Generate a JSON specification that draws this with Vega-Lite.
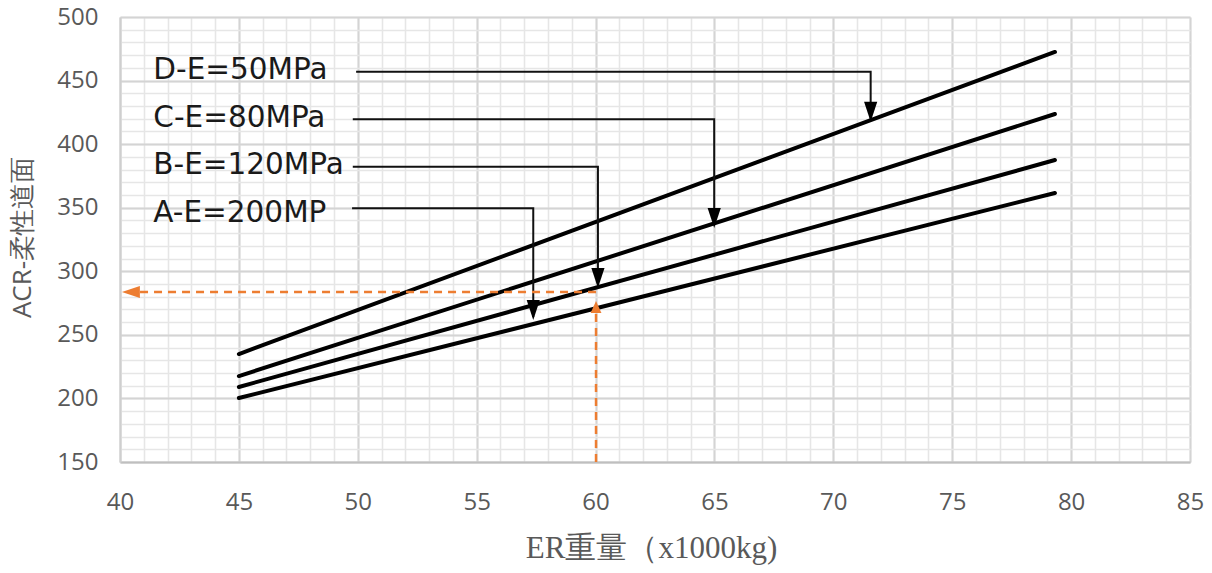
{
  "$schema": "https://vega.github.io/schema/vega-lite/v6.json",
  "width": 1070,
  "height": 445,
  "autosize": {"type": "none"},
  "padding": {"left": 120, "top": 17, "right": 22, "bottom": 111},
  "background": "white",
  "config": {
    "view": {"stroke": null},
    "axis": {
      "labelFont": "Open Sans",
      "labelFontSize": 24,
      "labelColor": "#595959",
      "labelFlush": false,
      "labelOverlap": false,
      "ticks": false,
      "tickSize": 0
    }
  },
  "datasets": {
    "curves": [
      {"series": "A-E=200MPa", "x": 45, "y": 200.3},
      {"series": "A-E=200MPa", "x": 79.32, "y": 361.6},
      {"series": "B-E=120MPa", "x": 45, "y": 209.0},
      {"series": "B-E=120MPa", "x": 79.32, "y": 387.5},
      {"series": "C-E=80MPa", "x": 45, "y": 217.6},
      {"series": "C-E=80MPa", "x": 79.32, "y": 423.7},
      {"series": "D-E=50MPa", "x": 45, "y": 234.9},
      {"series": "D-E=50MPa", "x": 79.32, "y": 472.5}
    ],
    "leaders": [
      {"id": "D", "o": 1, "x": 49.93, "y": 456.98},
      {"id": "D", "o": 2, "x": 71.57, "y": 456.98},
      {"id": "D", "o": 3, "x": 71.57, "y": 420.0},
      {"id": "C", "o": 1, "x": 49.79, "y": 419.54},
      {"id": "C", "o": 2, "x": 64.99, "y": 419.54},
      {"id": "C", "o": 3, "x": 64.99, "y": 337.0},
      {"id": "B", "o": 1, "x": 49.79, "y": 382.26},
      {"id": "B", "o": 2, "x": 60.10, "y": 382.26},
      {"id": "B", "o": 3, "x": 60.10, "y": 289.0},
      {"id": "A", "o": 1, "x": 49.76, "y": 349.54},
      {"id": "A", "o": 2, "x": 57.38, "y": 349.54},
      {"id": "A", "o": 3, "x": 57.38, "y": 264.0}
    ],
    "tips": [
      {"id": "D", "x": 71.57, "y": 417.65},
      {"id": "C", "x": 64.99, "y": 334.04},
      {"id": "B", "x": 60.10, "y": 286.85},
      {"id": "A", "x": 57.38, "y": 261.68}
    ],
    "guides": [
      {"id": "h", "o": 1, "x": 60.02, "y": 283.7},
      {"id": "h", "o": 2, "x": 40.6, "y": 283.7},
      {"id": "v", "o": 1, "x": 60.02, "y": 150},
      {"id": "v", "o": 2, "x": 60.02, "y": 272.0}
    ],
    "labels": [
      {"label": "D-E=50MPa", "x": 41.4, "y": 458.3},
      {"label": "C-E=80MPa", "x": 41.4, "y": 420.6},
      {"label": "B-E=120MPa", "x": 41.4, "y": 383.6},
      {"label": "A-E=200MP", "x": 41.4, "y": 345.8}
    ]
  },
  "layer": [
    {
      "data": {"name": "curves"},
      "mark": {"type": "line", "opacity": 0},
      "encoding": {
        "x": {
          "field": "x", "type": "quantitative",
          "scale": {"domain": [40, 85], "nice": false, "zero": false},
          "axis": {
            "orient": "bottom",
            "values": [40,41,42,43,44,45,46,47,48,49,50,51,52,53,54,55,56,57,58,59,60,61,62,63,64,65,66,67,68,69,70,71,72,73,74,75,76,77,78,79,80,81,82,83,84,85],
            "grid": true, "gridColor": "#e6e6e6", "gridWidth": 1.6,
            "labels": false, "ticks": false, "domain": false, "title": null
          }
        },
        "y": {
          "field": "y", "type": "quantitative",
          "scale": {"domain": [150, 500], "nice": false, "zero": false},
          "axis": {
            "orient": "left",
            "values": [150,160,170,180,190,200,210,220,230,240,250,260,270,280,290,300,310,320,330,340,350,360,370,380,390,400,410,420,430,440,450,460,470,480,490,500],
            "grid": true, "gridColor": "#e6e6e6", "gridWidth": 1.6,
            "labels": false, "ticks": false, "domain": false, "title": null
          }
        },
        "detail": {"field": "series"}
      }
    },
    {
      "data": {"name": "curves"},
      "mark": {"type": "line", "color": "#000000", "strokeWidth": 4, "strokeCap": "round"},
      "encoding": {
        "x": {
          "field": "x", "type": "quantitative",
          "axis": {
            "orient": "bottom",
            "values": [40,45,50,55,60,65,70,75,80,85],
            "grid": true, "gridColor": "#d4d4d4", "gridWidth": 2,
            "domain": true, "domainColor": "#bfbfbf", "domainWidth": 2,
            "labelPadding": 28,
            "title": "ER重量（x1000kg)",
            "titleFont": "Liberation Serif",
            "titleFontSize": 31,
            "titleFontWeight": "normal",
            "titleColor": "#595959",
            "titleX": 531,
            "titleY": 86,
            "titleBaseline": "middle"
          }
        },
        "y": {
          "field": "y", "type": "quantitative",
          "axis": {
            "orient": "left",
            "values": [150,200,250,300,350,400,450,500],
            "grid": true, "gridColor": "#d4d4d4", "gridWidth": 2,
            "domain": true, "domainColor": "#cfcfcf", "domainWidth": 2,
            "labelPadding": 22,
            "title": "ACR-柔性道面",
            "titleFont": "Open Sans",
            "titleFontSize": 26,
            "titleFontWeight": "normal",
            "titleColor": "#595959",
            "titleX": -98,
            "titleY": 220,
            "titleBaseline": "middle"
          }
        },
        "detail": {"field": "series"}
      }
    },
    {
      "data": {"name": "leaders"},
      "mark": {"type": "line", "color": "#111111", "strokeWidth": 2},
      "encoding": {
        "x": {"field": "x", "type": "quantitative", "axis": null},
        "y": {"field": "y", "type": "quantitative", "axis": null},
        "detail": {"field": "id"},
        "order": {"field": "o"}
      }
    },
    {
      "data": {"name": "guides"},
      "mark": {"type": "line", "color": "#ED7D31", "strokeWidth": 2.5, "strokeDash": [8, 6]},
      "encoding": {
        "x": {"field": "x", "type": "quantitative", "axis": null},
        "y": {"field": "y", "type": "quantitative", "axis": null},
        "detail": {"field": "id"},
        "order": {"field": "o"}
      }
    },
    {
      "data": {"name": "tips"},
      "mark": {"type": "point", "filled": true, "color": "#000000", "opacity": 1, "strokeWidth": 0, "size": 1600, "shape": "M0,0L-0.33,-1L0.33,-1Z"},
      "encoding": {
        "x": {"field": "x", "type": "quantitative", "axis": null},
        "y": {"field": "y", "type": "quantitative", "axis": null}
      }
    },
    {
      "data": {"values": [{"x": 40.08, "y": 283.7}]},
      "mark": {"type": "point", "filled": true, "color": "#ED7D31", "opacity": 1, "strokeWidth": 0, "size": 1296, "shape": "M0,0L1,-0.33L1,0.33Z"},
      "encoding": {
        "x": {"field": "x", "type": "quantitative", "axis": null},
        "y": {"field": "y", "type": "quantitative", "axis": null}
      }
    },
    {
      "data": {"values": [{"x": 60.02, "y": 276.6}]},
      "mark": {"type": "point", "filled": true, "color": "#ED7D31", "opacity": 1, "strokeWidth": 0, "size": 576, "shape": "M0,0L-0.45,1L0.45,1Z"},
      "encoding": {
        "x": {"field": "x", "type": "quantitative", "axis": null},
        "y": {"field": "y", "type": "quantitative", "axis": null}
      }
    },
    {
      "data": {"name": "labels"},
      "mark": {"type": "text", "align": "left", "baseline": "middle", "font": "DejaVu Sans", "fontSize": 29.5, "color": "#1a1a1a"},
      "encoding": {
        "x": {"field": "x", "type": "quantitative", "axis": null},
        "y": {"field": "y", "type": "quantitative", "axis": null},
        "text": {"field": "label"}
      }
    }
  ],
  "resolve": {"axis": {"x": "independent", "y": "independent"}}
}
